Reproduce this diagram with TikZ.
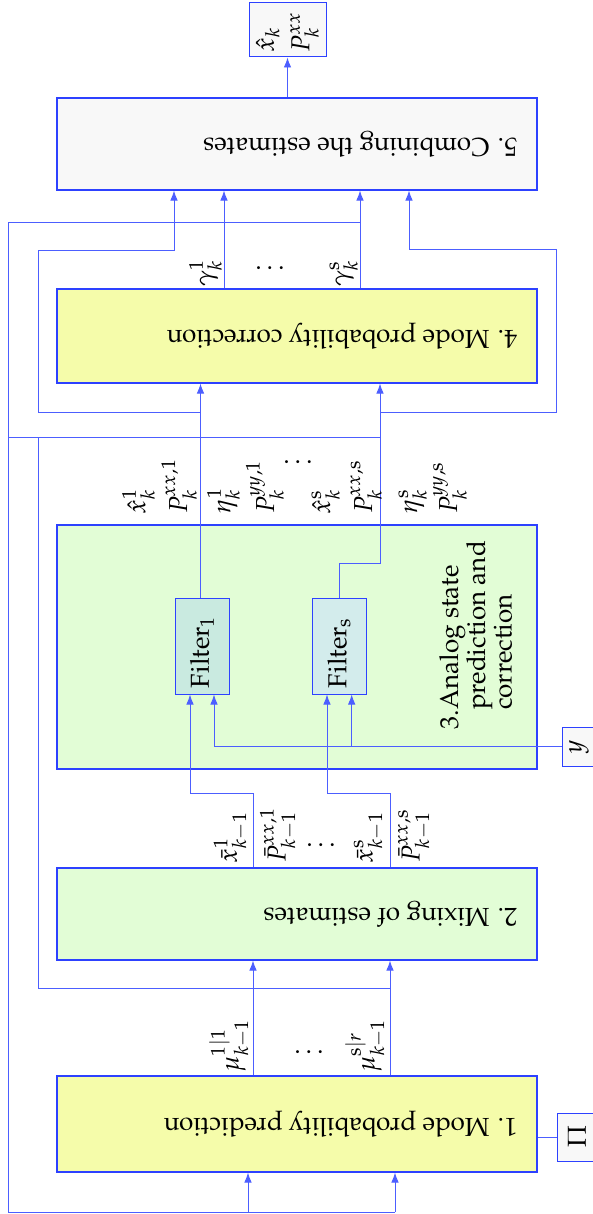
\documentclass[tikz,border=0pt]{standalone}
\usepackage[T1]{fontenc}
\usepackage{mathpazo}
\usepackage{amsmath}
\usetikzlibrary{arrows.meta}

\definecolor{lineblue}{RGB}{45,65,255}
\definecolor{ylwfill}{RGB}{245,252,170}
\definecolor{grnfill}{RGB}{226,253,214}
\definecolor{gryfill}{RGB}{248,248,248}
\definecolor{fltone}{RGB}{201,234,224}
\definecolor{flttwo}{RGB}{211,236,236}

\newcommand{\flipped}[2]{\rotatebox{180}{\makebox[#1][l]{#2}}}
\newcommand{\turned}[2]{\rotatebox{90}{\makebox[#1][l]{#2}}}

\begin{document}
\begin{tikzpicture}[x=1pt,y=-1pt,
    font=\fontsize{26}{25}\selectfont,
    blk/.style={draw=lineblue,line width=1.1pt,minimum width=480pt,inner sep=0pt},
    ibox/.style={draw=lineblue,line width=1pt,fill=gryfill,inner sep=0pt},
    wire/.style={lineblue!85,line width=0.9pt},
    arr/.style={wire,-{Latex[length=10pt,width=7.5pt]}},
    lbl/.style={rotate=90,anchor=south west,inner sep=0pt}]
\useasboundingbox (0,0) rectangle (593,1214);

% blocks
\node[blk,fill=gryfill,minimum height=92pt] (b5) at (297,144) {\flipped{440pt}{5. Combining the estimates}};
\node[blk,fill=ylwfill,minimum height=94pt] (b4) at (297,336) {\flipped{440pt}{4. Mode probability correction}};
\node[blk,fill=grnfill,minimum height=244pt] (b3) at (297,647) {};
\node[blk,fill=grnfill,minimum height=92pt] (b2) at (297,914) {\flipped{440pt}{2. Mixing of estimates}};
\node[blk,fill=ylwfill,minimum height=96pt] (b1) at (297,1124) {\flipped{440pt}{1. Mode probability prediction}};
\node[rotate=90,anchor=north west,align=left,inner sep=0pt] (b3t) at (439,710) {\llap{3.}Analog state\\prediction and\\correction};

\node[ibox,fill=fltone,minimum width=54pt,minimum height=96pt] (f1) at (202,646) {\turned{84pt}{Filter$_1$}};
\node[ibox,fill=flttwo,minimum width=54pt,minimum height=96pt] (fs) at (339,646) {\turned{84pt}{Filter$_\mathrm{s}$}};

% inputs and output
\node[ibox,minimum width=77pt,minimum height=54pt] (out) at (287.5,30)
    {\rotatebox{90}{\begin{tabular}{@{}l@{}}\makebox[44pt][l]{$\hat{x}_k$}\\[9pt]$P_k^{xx}$\end{tabular}}};
\node[ibox,minimum width=34pt,minimum height=39pt] (ym) at (579,746.5) {\rotatebox{90}{$y$}};
\node[ibox,minimum width=40pt,minimum height=48pt] (pi) at (577,1137) {\rotatebox{90}{$\Pi$}};

% junctions
\coordinate (gs) at (360,222);
\coordinate (e1) at (200.5,412);
\coordinate (es) at (380,412);
\coordinate (ej) at (380,437);
\coordinate (m1) at (253,793);
\coordinate (ms) at (390,793);
\coordinate (mj) at (390,988);
\coordinate (bot) at (395,1212);

% mode probabilities
\draw[arr] (b4.north -| 224,0) -- (b5.south -| 224,0);
\draw[arr] (b4.north -| gs) -- (b5.south -| gs);
\draw[wire] (gs) -| (bot -| 8,0) -- (bot);
\draw[arr] (bot -| 248,0) -- (b1.south -| 248,0);
\draw[arr] (bot) -- (b1.south -| bot);
\draw[arr] (b5.north -| out) -- (out.south);

% filter outputs
\draw[arr] (f1.north -| e1) -- (b4.south -| e1);
\draw[arr] (e1) -| (38,250) -| (b5.south -| 174,0);
\draw[arr] (fs.north) |- (380,563) -- (b4.south -| es);
\draw[arr] (es) -| (556,249) -| (b5.south -| 409,0);
\draw[wire] (8,437) -- (ej);
\draw[wire] (38,437) |- (mj);

% mixing
\draw[arr] (b1.north -| m1) -- (b2.south -| m1);
\draw[arr] (b1.north -| mj) -- (b2.south -| mj);
\draw[arr] (b2.north -| m1) -- (m1) -| (f1.south -| 190,0);
\draw[arr] (b2.north -| ms) -- (ms) -| (fs.south -| 327,0);

% measurement and transition matrix
\draw[arr] (ym.west) -| (f1.south -| 214,0);
\draw[arr] (ym.west -| 351.7,0) -- (fs.south -| 351.7,0);
\draw[wire] (pi.west) -- (b1.east |- pi.west);

% labels
\node[lbl] (g1) at (222,287) {$\gamma_k^1$};
\node[lbl] (g2) at (358,287) {$\gamma_k^\mathrm{s}$};
\node (gd) at (270,268) {$\ldots$};
\foreach \lx/\lt [count=\i] in {155/{\hat{x}_k^1},197/{P_k^{xx,1}},240/{\eta_k^1},284/{P_k^{yy,1}},
    340/{\hat{x}_k^\mathrm{s}},382/{P_k^{xx,\mathrm{s}}},427/{\eta_k^\mathrm{s}},467/{P_k^{yy,\mathrm{s}}}}
    \node[lbl] (o\i) at (\lx,514) {$\lt$};
\node (od) at (298,462) {$\ldots$};
\foreach \lx/\lt [count=\i] in {248/{\bar{x}_{k-1}^1},297/{\bar{P}_{k-1}^{xx,1}},384/{\bar{x}_{k-1}^\mathrm{s}},431/{\bar{P}_{k-1}^{xx,\mathrm{s}}}}
    \node[lbl] (x\i) at (\lx,863) {$\lt$};
\node (xd) at (321,845) {$\ldots$};
\node[lbl] (mu1) at (250,1072) {$\mu_{k-1}^{1|1}$};
\node[lbl] (mu2) at (386,1072) {$\mu_{k-1}^{\mathrm{s}|r}$};
\node (mud) at (309,1052) {$\ldots$};
\end{tikzpicture}
\end{document}
